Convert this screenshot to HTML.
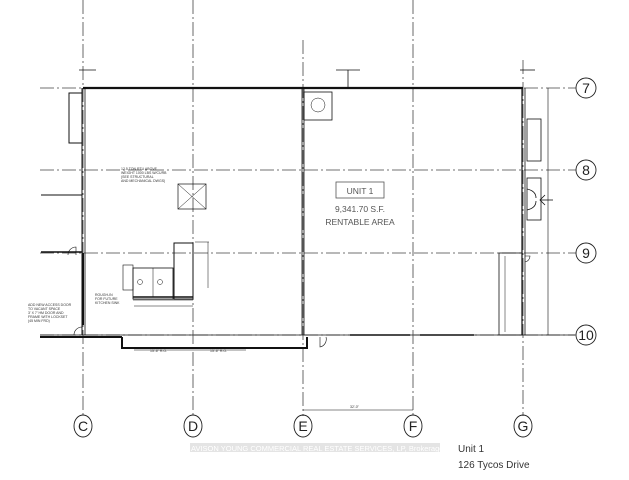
<!DOCTYPE html>
<html><head><style>
html,body{margin:0;padding:0;background:#fff;width:629px;height:480px;overflow:hidden}
svg{display:block}
text{font-family:"Liberation Sans",sans-serif}
</style></head><body>
<svg width="629" height="480" viewBox="0 0 629 480" xmlns="http://www.w3.org/2000/svg">
<g stroke="#444" stroke-width="0.8" stroke-dasharray="14 3 2 3" fill="none">
<line x1="83" y1="0" x2="83" y2="416"/>
<line x1="193" y1="0" x2="193" y2="416"/>
<line x1="303" y1="40" x2="303" y2="416"/>
<line x1="413" y1="0" x2="413" y2="416"/>
<line x1="523" y1="60" x2="523" y2="416"/>
<line x1="40" y1="88" x2="576" y2="88"/>
<line x1="40" y1="170" x2="576" y2="170"/>
<line x1="40" y1="253" x2="576" y2="253"/>
<line x1="40" y1="335" x2="576" y2="335"/>
</g>
<g stroke="#111" fill="none">
<line x1="83" y1="88" x2="523" y2="88" stroke-width="2.2"/>
<line x1="82" y1="88" x2="82" y2="335" stroke-width="1"/>
<line x1="85" y1="88" x2="85" y2="335" stroke-width="0.8"/>
<line x1="83" y1="253" x2="83" y2="325" stroke-width="2"/>
<line x1="522" y1="88" x2="522" y2="335" stroke-width="1.2"/>
<line x1="525" y1="88" x2="525" y2="335" stroke-width="0.8"/>
<line x1="302" y1="88" x2="302" y2="335" stroke-width="0.8"/>
<line x1="304" y1="88" x2="304" y2="335" stroke-width="0.8"/>
<line x1="40" y1="335" x2="575" y2="335" stroke-width="0.8"/>
<line x1="40" y1="337" x2="122" y2="337" stroke-width="2"/>
<polyline points="122,337 122,348 307,348 307,337" stroke-width="2"/>
<line x1="41" y1="195" x2="82" y2="195" stroke-width="1"/>
<line x1="41" y1="252" x2="82" y2="252" stroke-width="1.5"/>
<rect x="69" y="93" width="13" height="50" stroke-width="1"/>
<line x1="79" y1="70" x2="96" y2="70" stroke-width="0.8"/>
<line x1="336" y1="70" x2="360" y2="70" stroke-width="0.8"/>
<line x1="348" y1="70" x2="348" y2="88" stroke-width="0.8"/>
<line x1="520" y1="70" x2="535" y2="70" stroke-width="0.8"/>
<rect x="178" y="184" width="28" height="25" stroke-width="0.7"/>
<line x1="178" y1="184" x2="206" y2="209" stroke-width="0.5"/>
<line x1="206" y1="184" x2="178" y2="209" stroke-width="0.5"/>
<rect x="174" y="243" width="19" height="56" stroke-width="1"/>
<rect x="133" y="268" width="40" height="31" stroke-width="0.8"/>
<line x1="153" y1="268" x2="153" y2="297" stroke-width="0.5"/>
<circle cx="140" cy="282" r="2.5" stroke-width="0.5"/>
<circle cx="160" cy="282" r="2.5" stroke-width="0.5"/>
<rect x="123" y="265" width="10" height="25" stroke-width="0.6"/>
<line x1="133" y1="297" x2="193" y2="297" stroke-width="1.5"/>
<line x1="133" y1="300" x2="193" y2="300" stroke-width="0.5"/>
<line x1="195" y1="242" x2="209" y2="242" stroke-width="0.5"/>
<line x1="208" y1="242" x2="208" y2="288" stroke-width="0.5"/>
<line x1="134" y1="306" x2="193" y2="306" stroke-width="0.5"/>
<rect x="304" y="92" width="28" height="28" stroke-width="0.8"/>
<circle cx="318" cy="105" r="7" stroke-width="0.5"/>
<rect x="527" y="119" width="14" height="42" stroke-width="0.8"/>
<rect x="527" y="178" width="14" height="42" stroke-width="0.8"/>
<path d="M527 189 q9 2 9 9 M527 210 q9 -2 9 -9" stroke-width="0.8"/>
<line x1="540" y1="200" x2="553" y2="200" stroke-width="0.8"/>
<polyline points="545,195 540,200 545,205" stroke-width="0.8"/>
<rect x="499" y="253" width="23" height="82" stroke-width="0.8"/>
<line x1="505" y1="256" x2="505" y2="332" stroke-width="0.5"/>
<line x1="350" y1="335" x2="410" y2="335" stroke-width="1.5"/>
<line x1="420" y1="335" x2="474" y2="335" stroke-width="1.5"/>
<line x1="548" y1="88" x2="548" y2="335" stroke-width="0.6"/>
<line x1="134" y1="350" x2="246" y2="350" stroke-width="0.5"/>
<line x1="303" y1="410" x2="413" y2="410" stroke-width="0.6"/>
<path d="M68 255 a8 8 0 0 1 8 -8 v8" stroke-width="0.6"/>
<path d="M74 335 a8 8 0 0 1 8 -8 v8" stroke-width="0.6"/>
<path d="M320 337 v10 a8 8 0 0 0 6 -10" stroke-width="0.6"/>
<path d="M525 256 h5 a6 6 0 0 1 -5 6" stroke-width="0.6"/>
<rect x="336" y="182" width="48" height="16" stroke="#555" stroke-width="0.8"/>
</g>
<g fill="#555" font-size="8.5" text-anchor="middle" font-family="Liberation Sans,sans-serif">
<text x="360" y="194">UNIT 1</text>
<text x="360" y="212">9,341.70 S.F.</text>
<text x="360" y="225">RENTABLE AREA</text>
</g>
<g fill="#333" font-size="3.5">
<text x="121" y="170">12.5 TON RTU ABOVE</text>
<text x="121" y="174">WEIGHT 1000 LBS W/CURB</text>
<text x="121" y="178">(SEE STRUCTURAL</text>
<text x="121" y="182">AND MECHANICAL DWGS)</text>
<text x="95" y="296">ROUGH-IN</text>
<text x="95" y="300">FOR FUTURE</text>
<text x="95" y="304">KITCHEN SINK</text>
<text x="28" y="306">ADD NEW ACCESS DOOR</text>
<text x="28" y="310">TO VACANT SPACE</text>
<text x="28" y="314">3' X 7' HM DOOR AND</text>
<text x="28" y="318">FRAME WITH LOCKSET</text>
<text x="28" y="322">(45 MIN FRD)</text>
<text x="150" y="352">15'-6" R.O.</text>
<text x="210" y="352">15'-6" R.O.</text>
<text x="350" y="408">32'-0"</text>
</g>
<g fill="none" stroke="#222" stroke-width="0.9">
<circle cx="586" cy="88" r="10"/><circle cx="586" cy="170" r="10"/>
<circle cx="586" cy="253" r="10"/><circle cx="586" cy="335" r="10"/>
<ellipse cx="83" cy="426" rx="9" ry="11"/><ellipse cx="193" cy="426" rx="9" ry="11"/>
<ellipse cx="303" cy="426" rx="9" ry="11"/><ellipse cx="413" cy="426" rx="9" ry="11"/>
<ellipse cx="523" cy="426" rx="9" ry="11"/>
</g>
<g fill="#222" font-size="14" text-anchor="middle">
<text x="586" y="93">7</text><text x="586" y="175">8</text>
<text x="586" y="258">9</text><text x="586" y="340">10</text>
<text x="83" y="431">C</text><text x="193" y="431">D</text>
<text x="303" y="431">E</text><text x="413" y="431">F</text>
<text x="523" y="431">G</text>
</g>
<rect x="190" y="443" width="250" height="9" fill="#e4e4e4"/>
<text x="191" y="451" font-size="7.5" fill="#fff">AVISON YOUNG COMMERCIAL REAL ESTATE SERVICES, LP, Brokerage</text>
<text x="458" y="452" font-size="10" fill="#333">Unit 1</text>
<text x="458" y="468" font-size="10" fill="#333">126 Tycos Drive</text>
</svg>
</body></html>
